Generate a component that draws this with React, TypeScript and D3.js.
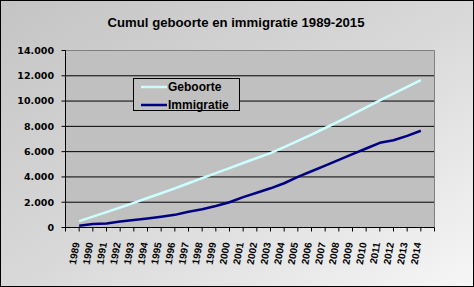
import React from "react";
import * as d3 from "d3";

const years = ["1989","1990","1991","1992","1993","1994","1995","1996","1997","1998","1999","2000","2001","2002","2003","2004","2005","2006","2007","2008","2009","2010","2011","2012","2013","2014"];
const geboorte = [500, 860, 1220, 1580, 1950, 2330, 2710, 3100, 3500, 3900, 4300, 4700, 5100, 5500, 5880, 6350, 6850, 7350, 7870, 8400, 8950, 9500, 10050, 10580, 11120, 11650];
const immigratie = [130, 270, 320, 470, 600, 720, 850, 1000, 1250, 1450, 1700, 2000, 2400, 2750, 3100, 3500, 4000, 4450, 4900, 5350, 5800, 6250, 6700, 6900, 7250, 7650];
const yTicks = [0, 2000, 4000, 6000, 8000, 10000, 12000, 14000];
const title = "Cumul geboorte en immigratie 1989-2015";
const seriesNames = ["Geboorte", "Immigratie"];
const seriesColors = ["#ccffff", "#000080"];

const W = 474, H = 287;
const L = 65.5, R = 434.5, T = 50.5, B = 227.5;
const nSlots = 27;

export default function App() {
  const x = d3.scaleLinear().domain([0, nSlots]).range([L, R]);
  const y = d3.scaleLinear().domain([0, 14000]).range([B, T]);
  const fmt = (v: number) => d3.format(",")(v).replace(/,/g, ".");
  const line = d3.line<number>().x((_, i) => x(i + 1)).y((d) => y(d));
  const series = [geboorte, immigratie];
  const ticksX = d3.range(0, nSlots + 1);
  return (
    <div style={{ position: "fixed", left: 0, top: 0 }}>
      <svg width={W} height={H} style={{ display: "block" }}>
        <defs>
          <linearGradient id="bg" x1="0" y1="0" x2="1" y2="1">
            <stop offset="0" stopColor="#c4c4c4" />
            <stop offset="0.5" stopColor="#d8d8d8" />
            <stop offset="1" stopColor="#f6f6f6" />
          </linearGradient>
        </defs>
        <rect x={0.5} y={0.5} width={W - 1} height={H - 1} fill="url(#bg)" stroke="#000" />
        <text x={236} y={27} textAnchor="middle" fontFamily="'Liberation Sans', Arial, sans-serif" fontWeight="bold" fontSize={13} fill="#000" textLength={257} lengthAdjust="spacingAndGlyphs">{title}</text>
        <rect x={L} y={T} width={R - L} height={B - T} fill="#c0c0c0" />
        {yTicks.filter((t) => t > 0 && t < 14000).map((t) => (
          <line key={"g" + t} x1={L} x2={R} y1={y(t)} y2={y(t)} stroke="#000" strokeWidth={1} />
        ))}
        <line x1={L} x2={R} y1={T} y2={T} stroke="#808080" />
        <line x1={R} x2={R} y1={T} y2={B} stroke="#808080" />
        <line x1={L} x2={L} y1={T} y2={B} stroke="#000" />
        <line x1={L} x2={R} y1={B} y2={B} stroke="#000" />
        {yTicks.map((t) => (
          <g key={"yt" + t}>
            <line x1={L - 4} x2={L} y1={y(t)} y2={y(t)} stroke="#000" />
            <text x={54} y={y(t)} dy="0.36em" textAnchor="end" fontFamily="'DejaVu Sans', sans-serif" fontWeight="bold" fontSize={9.5} fill="#000">{fmt(t)}</text>
          </g>
        ))}
        {ticksX.map((k) => (
          <line key={"xt" + k} x1={x(k)} x2={x(k)} y1={B} y2={B + 4} stroke="#000" />
        ))}
        {years.map((yr, i) => (
          <text key={yr} transform={`translate(${x(i + 1) + 0.5},243) rotate(-80)`} textAnchor="end" fontFamily="'Liberation Sans', Arial, sans-serif" fontWeight="bold" fontSize={10} fill="#000">{yr}</text>
        ))}
        {series.map((s, si) => (
          <path key={"s" + si} d={line(s) || ""} fill="none" stroke={seriesColors[si]} strokeWidth={2.5} strokeLinejoin="round" />
        ))}
        <rect x={133.5} y={78.5} width={106} height={32} fill="#c0c0c0" stroke="#000" />
        {seriesNames.map((nm, i) => (
          <g key={nm}>
            <line x1={141} x2={167} y1={87 + i * 18} y2={87 + i * 18} stroke={seriesColors[i]} strokeWidth={2.5} />
            <text x={168} y={87 + i * 18} dy="0.36em" fontFamily="'Liberation Sans', Arial, sans-serif" fontWeight="bold" fontSize={12} fill="#000">{nm}</text>
          </g>
        ))}
      </svg>
    </div>
  );
}
